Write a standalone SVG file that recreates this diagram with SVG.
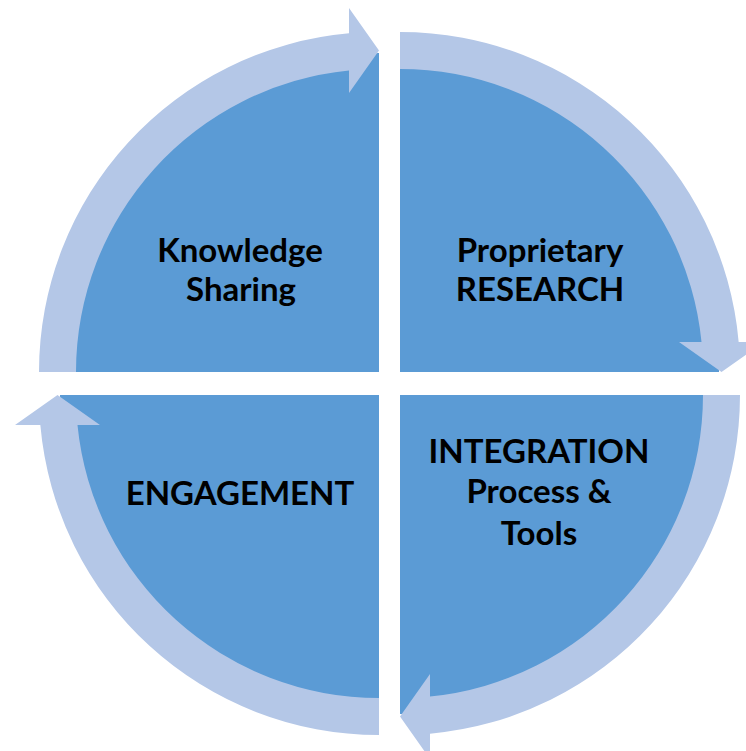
<svg xmlns="http://www.w3.org/2000/svg" xmlns:xlink="http://www.w3.org/1999/xlink" width="746" height="751" viewBox="0 0 746 751">
  <style>
    .pie { fill: #5B9BD5; }
    .ring { fill: #B4C7E7; }
    .lbl { font-family: Lato, "Liberation Sans", sans-serif; font-weight: bold; font-size: 33px; fill: #000; text-anchor: middle; }
  </style>
  <defs>
    <path id="pie" d="M 0 0 L -319 0 A 319 319 0 0 1 0 -319 Z"/>
    <path id="arrow" d="M -340 0 A 340 340 0 0 1 -30 -338.67 L -30 -364 L 0 -321.5 L -30 -279 L -30 -301.51 A 303 303 0 0 0 -303 0 Z"/>
  </defs>
  <rect width="746" height="751" fill="#fff"/>
  <g id="knowledge-sharing">
    <use xlink:href="#pie" href="#pie" class="pie" transform="translate(379,372)"/>
    <text class="lbl" x="240" y="262">Knowledge</text>
    <text class="lbl" x="241" y="301">Sharing</text>
  </g>
  <g id="proprietary-research">
    <use xlink:href="#pie" href="#pie" class="pie" transform="translate(400,372) rotate(90)"/>
    <text class="lbl" x="540" y="262">Proprietary</text>
    <text class="lbl" x="540" y="301">RESEARCH</text>
  </g>
  <g id="integration">
    <use xlink:href="#pie" href="#pie" class="pie" transform="translate(400,395) rotate(180)"/>
    <text class="lbl" x="539" y="463">INTEGRATION</text>
    <text class="lbl" x="539" y="503">Process &amp;</text>
    <text class="lbl" x="539" y="545">Tools</text>
  </g>
  <g id="engagement">
    <use xlink:href="#pie" href="#pie" class="pie" transform="translate(379,395) rotate(270)"/>
    <text class="lbl" x="240" y="505">ENGAGEMENT</text>
  </g>
  <g id="connectors">
    <use xlink:href="#arrow" href="#arrow" class="ring" transform="translate(379,372)"/>
    <use xlink:href="#arrow" href="#arrow" class="ring" transform="translate(400,372) rotate(90)"/>
    <use xlink:href="#arrow" href="#arrow" class="ring" transform="translate(400,395) rotate(180)"/>
    <use xlink:href="#arrow" href="#arrow" class="ring" transform="translate(379,395) rotate(270)"/>
  </g>
</svg>
